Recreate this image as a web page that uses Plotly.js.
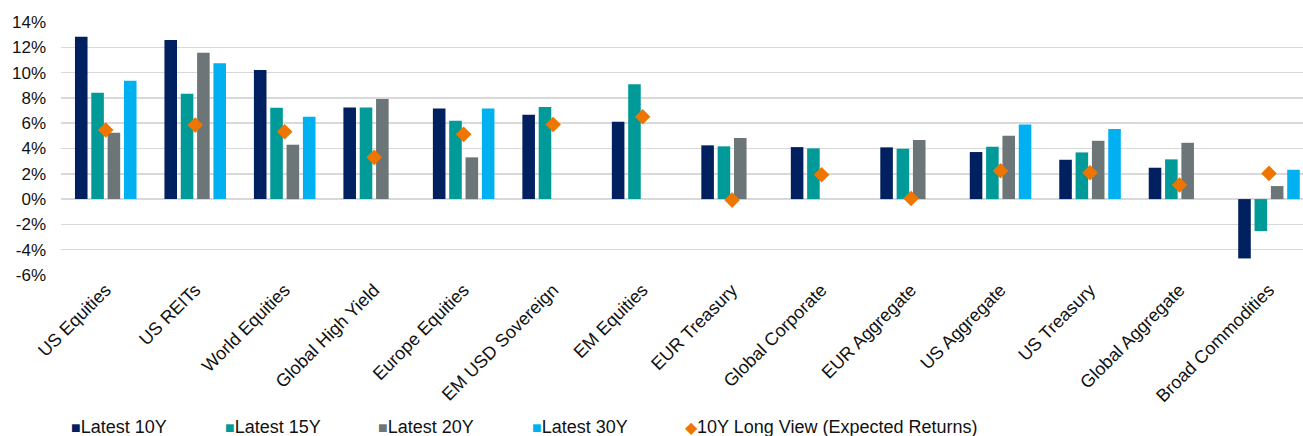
<!DOCTYPE html>
<html>
<head>
<meta charset="utf-8">
<script src="https://cdn.plot.ly/plotly-3.0.1.min.js"></script>
<style>html,body{margin:0;padding:0;background:#fff;}#chart{width:1303px;height:436px;}</style>
</head>
<body>
<div id="chart"></div>
<script>
const categories = ["US Equities","US REITs","World Equities","Global High Yield","Europe Equities","EM USD Sovereign","EM Equities","EUR Treasury","Global Corporate","EUR Aggregate","US Aggregate","US Treasury","Global Aggregate","Broad Commodities"];
const latest10Y = [12.84, 12.58, 10.2, 7.25, 7.17, 6.67, 6.12, 4.25, 4.11, 4.09, 3.72, 3.11, 2.48, -4.69];
const latest15Y = [8.41, 8.33, 7.22, 7.25, 6.2, 7.28, 9.07, 4.17, 4.01, 3.98, 4.14, 3.69, 3.14, -2.53];
const latest20Y = [5.25, 11.57, 4.3, 7.91, 3.3, null, null, 4.83, null, 4.67, 5.01, 4.61, 4.45, 1.03];
const latest30Y = [9.36, 10.73, 6.51, null, 7.17, null, null, null, null, null, 5.9, 5.54, null, 2.32];
const longView10Y = [5.46, 5.85, 5.33, 3.3, 5.12, 5.9, 6.51, -0.08, 1.92, 0.05, 2.24, 2.08, 1.11, 2.03];
const seriesNames = ["Latest 10Y", "Latest 15Y", "Latest 20Y", "Latest 30Y", "10Y Long View (Expected Returns)"];
const yTickVals = [-6, -4, -2, 0, 2, 4, 6, 8, 10, 12, 14];
const yTickText = yTickVals.map(v => v + "%");

const seriesColors = ["#002060", "#009A98", "#6C7577", "#00B0F0", "#EE7600"];
function barTrace(i, vals) {
  return {type: "bar", name: seriesNames[i], x: categories, y: vals, marker: {color: seriesColors[i], line: {width: 0}}, showlegend: false};
}
const data = [
  barTrace(0, latest10Y),
  barTrace(1, latest15Y),
  barTrace(2, latest20Y),
  barTrace(3, latest30Y),
  {type: "scatter", mode: "markers", name: seriesNames[4], x: categories, y: longView10Y, showlegend: false,
   marker: {symbol: "diamond", size: 12, color: seriesColors[4]}}
];

// legend drawn as text entries (coloured glyph right before the label, as in the reference)
const plotLeft = 61, plotWidth = 1242;
const legendStartPx = 70, legendStepPx = 153.5;
const annotations = seriesNames.map((name, i) => {
  const glyph = i < 4
    ? '<span style="color:' + seriesColors[i] + ';font-size:16px">■</span>'
    : '<span style="color:' + seriesColors[i] + ';font-size:16px">◆</span>';
  return {
    text: glyph + name, showarrow: false, xref: "paper", yref: "paper",
    x: (legendStartPx + i * legendStepPx - plotLeft) / plotWidth, y: -0.601,
    xanchor: "left", yanchor: "middle", font: {size: 18, color: "#111"}, borderpad: 0
  };
});

const layout = {
  width: 1303, height: 436,
  margin: {l: 61, r: 0, t: 22, b: 161},
  paper_bgcolor: "#fff", plot_bgcolor: "#fff",
  font: {family: "Liberation Sans, Arial, sans-serif", size: 17, color: "#111"},
  barmode: "group", bargap: 0.27, bargroupgap: 0.23,
  xaxis: {type: "category", range: [-0.5, 13.38], tickangle: -45, showgrid: false, zeroline: false,
          showline: false, ticks: "", tickfont: {size: 18, color: "#111"}, automargin: false},
  yaxis: {range: [-6, 14], tickvals: yTickVals, ticktext: yTickText, showgrid: true, gridcolor: "#D9D9D9",
          gridwidth: 1.5, zeroline: true, zerolinecolor: "#D9D9D9", zerolinewidth: 1.5, ticks: "",
          ticklabelstandoff: 14, tickfont: {size: 17, color: "#111"}, automargin: false, fixedrange: true},
  showlegend: false,
  annotations: annotations
};
Plotly.newPlot("chart", data, layout, {displayModeBar: false, staticPlot: true});
</script>
</body>
</html>
